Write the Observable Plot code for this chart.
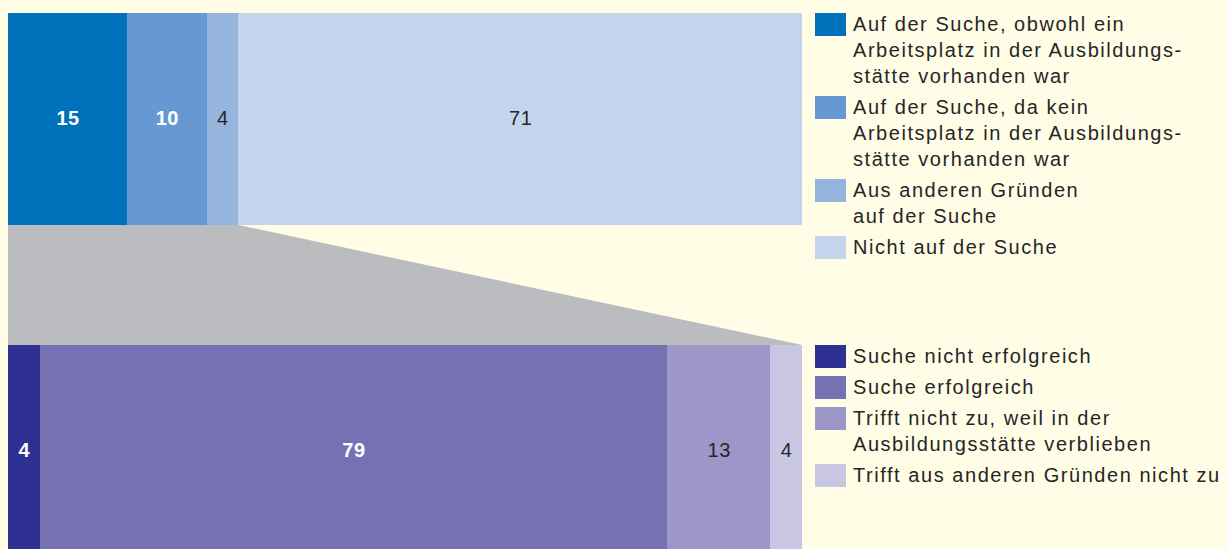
<!DOCTYPE html>
<html><head><meta charset="utf-8">
<script src="https://cdn.jsdelivr.net/npm/d3@7"></script>
<script src="https://cdn.jsdelivr.net/npm/@observablehq/plot@0.6"></script>
<style>
html,body{margin:0;padding:0;background:#fffde6;}
#wrap{position:relative;width:1227px;height:549px;overflow:hidden;font-family:"Liberation Sans",Arial,sans-serif;}
#wrap svg{position:absolute;left:0;top:0;}
.legend{position:absolute;left:815px;}
.item{display:flex;align-items:flex-start;margin-bottom:5px;}
.sw{width:31px;height:23px;margin-top:2px;flex:none;}
.lab{margin-left:7px;font-size:20px;line-height:26px;color:#262626;white-space:pre-line;letter-spacing:1.55px;}
</style></head><body><div id="wrap"></div>
<script>
const topCategories = [
  "Auf der Suche, obwohl ein\nArbeitsplatz in der Ausbildungs-\nstätte vorhanden war",
  "Auf der Suche, da kein\nArbeitsplatz in der Ausbildungs-\nstätte vorhanden war",
  "Aus anderen Gründen\nauf der Suche",
  "Nicht auf der Suche"
];
const topValues = [15, 10, 4, 71];
const topColors = ["#0071bb", "#6699d2", "#95b4de", "#c5d4ed"];

const bottomCategories = [
  "Suche nicht erfolgreich",
  "Suche erfolgreich",
  "Trifft nicht zu, weil in der\nAusbildungsstätte verblieben",
  "Trifft aus anderen Gründen nicht zu"
];
const bottomValues = [4, 79, 13, 4];
const bottomColors = ["#2e3192", "#7671b3", "#9c96c9", "#c8c6e3"];

const connectorColor = "#bbbcc0";
const darkText = "#262626";

// vertical layout (y units)
const topBand = [0, 212];
const bottomBand = [332, 536];

const topData = topCategories.map((c, i) => ({category: c, value: topValues[i], idx: i}));
const bottomData = bottomCategories.map((c, i) => ({category: c, value: bottomValues[i], idx: i}));
const connector = [
  {y: topBand[1], x1: 0, x2: d3.sum(topValues.slice(0, 3))},
  {y: bottomBand[0], x1: 0, x2: d3.sum(bottomValues)}
];

function barMarks(data, band, dy) {
  const mid = (band[0] + band[1]) / 2;
  return [
    Plot.rectX(data, Plot.stackX({x: "value", y1: band[0], y2: band[1], fill: "category", shapeRendering: "crispEdges"})),
    Plot.text(data, Plot.stackX({x: "value", y: mid, dy, text: d => d.idx < 2 ? String(d.value) : "",
      fill: "white", fontWeight: "bold", fontSize: 20, fontFamily: "Liberation Sans, Arial, sans-serif"})),
    Plot.text(data, Plot.stackX({x: "value", y: mid, dy, text: d => d.idx >= 2 ? String(d.value) : "",
      fill: darkText, fontSize: 20, fontFamily: "Liberation Sans, Arial, sans-serif"}))
  ];
}

const chart = Plot.plot({
  width: 1227, height: 549,
  marginLeft: 8, marginRight: 425, marginTop: 13, marginBottom: 0,
  x: {domain: [0, 100], axis: null},
  y: {domain: [0, 536], range: [13, 549], axis: null},
  color: {domain: [...topCategories, ...bottomCategories], range: [...topColors, ...bottomColors]},
  style: {background: "transparent", letterSpacing: "0.5px"},
  marks: [
    Plot.areaX(connector, {y: "y", x1: "x1", x2: "x2", fill: connectorColor}),
    ...barMarks(topData, topBand, -1),
    ...barMarks(bottomData, bottomBand, 3)
  ]
});
const wrap = document.getElementById("wrap");
wrap.appendChild(chart);

function legend(cats, colors, top) {
  const div = document.createElement("div");
  div.className = "legend";
  div.style.top = top + "px";
  cats.forEach((c, i) => {
    const it = document.createElement("div");
    it.className = "item";
    const sw = document.createElement("div");
    sw.className = "sw";
    sw.style.background = colors[i];
    const lab = document.createElement("div");
    lab.className = "lab";
    lab.textContent = c;
    it.appendChild(sw); it.appendChild(lab);
    div.appendChild(it);
  });
  wrap.appendChild(div);
}
legend(topCategories, topColors, 11);
legend(bottomCategories, bottomColors, 343);
</script></body></html>
